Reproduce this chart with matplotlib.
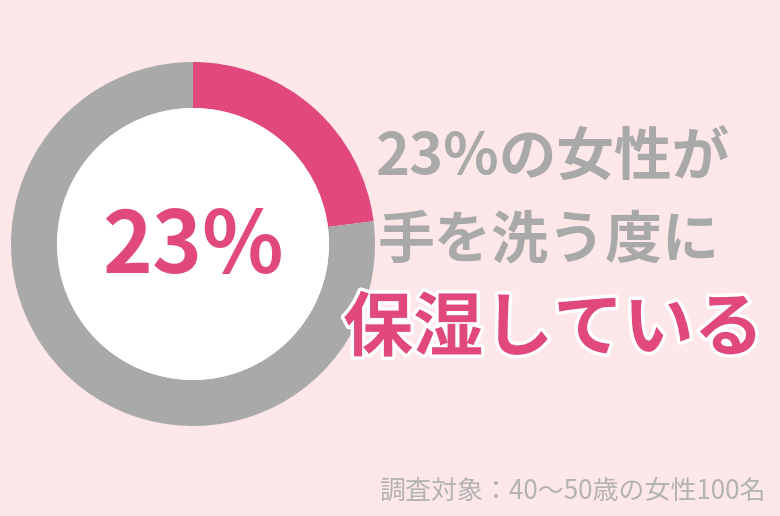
import matplotlib
matplotlib.use("Agg")
import matplotlib.pyplot as plt
import matplotlib.patheffects as pe
from matplotlib.patches import Circle

# data
labels = ["保湿している", "していない"]
shares = [23, 77]
center_label = "23%"
headline = ["23%の女性が", "手を洗う度に"]
highlight = "保湿している"
note = "調査対象：40〜50歳の女性100名"

pink = "#e0487e"
grey = "#a9a9a9"
bg = "#fde7e9"

plt.rcParams['font.family'] = ['Noto Sans CJK JP', 'DejaVu Sans']

fig = plt.figure(figsize=(7.8, 5.16), dpi=100)
fig.patch.set_facecolor(bg)
ax = fig.add_axes([0, 0, 1, 1])
ax.set_facecolor(bg)

# donut
ax.pie(shares, colors=[pink, grey], startangle=90, counterclock=False,
       radius=182, center=(193, 272),
       wedgeprops=dict(width=46, linewidth=0))
ax.add_patch(Circle((193, 272), 136, facecolor="white", edgecolor="none"))

ax.set_xlim(0, 780)
ax.set_ylim(0, 516)
ax.set_aspect('equal')
ax.axis('off')

ax.text(193, 516 - 248, center_label, color=pink, fontsize=61,
        fontweight='bold', ha='center', va='center')

ax.text(376, 516 - 158, headline[0], color=grey, fontsize=41.5,
        fontweight='bold', ha='left', va='center')
ax.text(378, 516 - 240, headline[1], color=grey, fontsize=41,
        fontweight='bold', ha='left', va='center')
ax.text(343, 516 - 330, highlight, color=pink, fontsize=50.5,
        fontweight='bold', ha='left', va='center',
        path_effects=[pe.withStroke(linewidth=5, foreground='white')])

ax.text(766, 516 - 491, note, color="#b3b3b3", fontsize=18.7,
        ha='right', va='center')

fig.savefig("out.png", dpi=100, facecolor=bg)
